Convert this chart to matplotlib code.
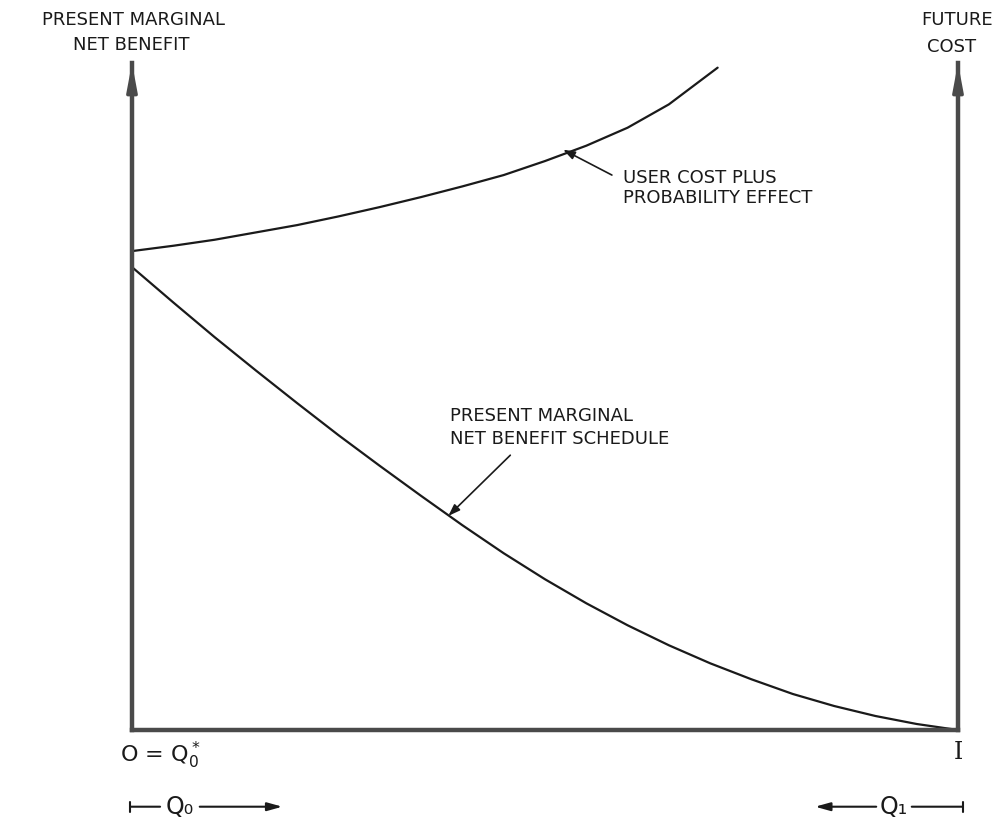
import numpy as np
import matplotlib
matplotlib.use("Agg")
import matplotlib.pyplot as plt

# x runs 0..1 along the bottom axis, y 0..1 up to the arrow tips
upper_x = [0.0, 0.05, 0.10, 0.15, 0.20, 0.25, 0.30, 0.35, 0.40, 0.45,
           0.50, 0.55, 0.60, 0.65, 0.709]
upper_y = [0.718, 0.726, 0.735, 0.746, 0.757, 0.770, 0.784, 0.799, 0.815, 0.832,
           0.853, 0.876, 0.903, 0.938, 0.993]

lower_x = [0.0, 0.05, 0.10, 0.15, 0.20, 0.25, 0.30, 0.35, 0.40, 0.45, 0.50,
           0.55, 0.60, 0.65, 0.70, 0.75, 0.80, 0.85, 0.90, 0.95, 1.0]
lower_y = [0.694, 0.641, 0.589, 0.539, 0.490, 0.442, 0.396, 0.351, 0.307, 0.265, 0.226,
           0.190, 0.157, 0.127, 0.100, 0.076, 0.054, 0.036, 0.021, 0.009, 0.0]

upper_label = "USER COST PLUS\nPROBABILITY EFFECT"
lower_label = "PRESENT MARGINAL\nNET BENEFIT SCHEDULE"
left_title = ["PRESENT MARGINAL", "NET BENEFIT"]
right_title = ["FUTURE", "COST"]

ink = "#1a1a1a"
axis_col = "#4a4a4a"

fig = plt.figure(figsize=(10.08, 8.19), dpi=100)
ax = fig.add_axes([132 / 1008, 89 / 819, 826 / 1008, 667 / 819])
ax.set_xlim(0, 1)
ax.set_ylim(0, 1)
ax.set_xticks([])
ax.set_yticks([])
ax.spines["top"].set_visible(False)
for side in ["left", "bottom", "right"]:
    ax.spines[side].set_linewidth(3.2)
    ax.spines[side].set_color(axis_col)

# arrow heads on the two vertical axes
for xa in [0.0, 1.0]:
    ax.annotate("", xy=(xa, 1.0), xytext=(xa, 0.93), annotation_clip=False,
                arrowprops=dict(arrowstyle="-|>,head_length=1.6,head_width=0.3",
                                color=axis_col, lw=2.5, shrinkA=0, shrinkB=0))

ax.plot(upper_x, upper_y, color=ink, lw=1.6, clip_on=False, solid_capstyle="round")
ax.plot(lower_x, lower_y, color=ink, lw=1.6, clip_on=False, solid_capstyle="round")

fs = 13
ax.text(0.594, 0.813, upper_label, fontsize=fs, ha="left", va="center",
        linespacing=1.15, color=ink)
ax.annotate("", xy=(0.522, 0.870), xytext=(0.581, 0.832),
            arrowprops=dict(arrowstyle="-|>,head_length=0.7,head_width=0.25",
                            color=ink, lw=1.2, shrinkA=0, shrinkB=0))

ax.text(0.385, 0.454, lower_label, fontsize=fs, ha="left", va="center",
        linespacing=1.35, color=ink)
ax.annotate("", xy=(0.383, 0.321), xytext=(0.458, 0.412),
            arrowprops=dict(arrowstyle="-|>,head_length=0.7,head_width=0.25",
                            color=ink, lw=1.2, shrinkA=0, shrinkB=0))

# titles above the axes
fig.text(0.132, 0.9756, left_title[0], fontsize=fs, ha="center", va="center", color=ink)
fig.text(0.130, 0.945, left_title[1], fontsize=fs, ha="center", va="center", color=ink)
fig.text(0.949, 0.9756, right_title[0], fontsize=fs, ha="center", va="center", color=ink)
fig.text(0.944, 0.943, right_title[1], fontsize=fs, ha="center", va="center", color=ink)

# axis end labels
ax.text(0.034, -0.0375, r"O = Q$_0^*$", fontsize=16, ha="center", va="center", color=ink)
ax.text(1.0, -0.033, "I", fontsize=17, family="DejaVu Serif", ha="center", va="center", color=ink)

# Q0 and Q1 range markers
yb = -0.115
ax.annotate("", xy=(0.034, yb), xytext=(-0.002, yb), annotation_clip=False,
            arrowprops=dict(arrowstyle="|-|,widthA=0.35,widthB=0", color=ink, lw=1.5,
                            shrinkA=0, shrinkB=0))
ax.text(0.058, yb, "Q₀", fontsize=17, ha="center", va="center", color=ink)
ax.annotate("", xy=(0.182, yb), xytext=(0.082, yb), annotation_clip=False,
            arrowprops=dict(arrowstyle="-|>,head_length=0.9,head_width=0.25", color=ink,
                            lw=1.5, shrinkA=0, shrinkB=0))

ax.annotate("", xy=(0.827, yb), xytext=(0.901, yb), annotation_clip=False,
            arrowprops=dict(arrowstyle="-|>,head_length=0.9,head_width=0.25", color=ink,
                            lw=1.5, shrinkA=0, shrinkB=0))
ax.text(0.922, yb, "Q₁", fontsize=17, ha="center", va="center", color=ink)
ax.annotate("", xy=(1.006, yb), xytext=(0.944, yb), annotation_clip=False,
            arrowprops=dict(arrowstyle="|-|,widthA=0,widthB=0.35", color=ink, lw=1.5,
                            shrinkA=0, shrinkB=0))

fig.savefig("out.png", dpi=100)
